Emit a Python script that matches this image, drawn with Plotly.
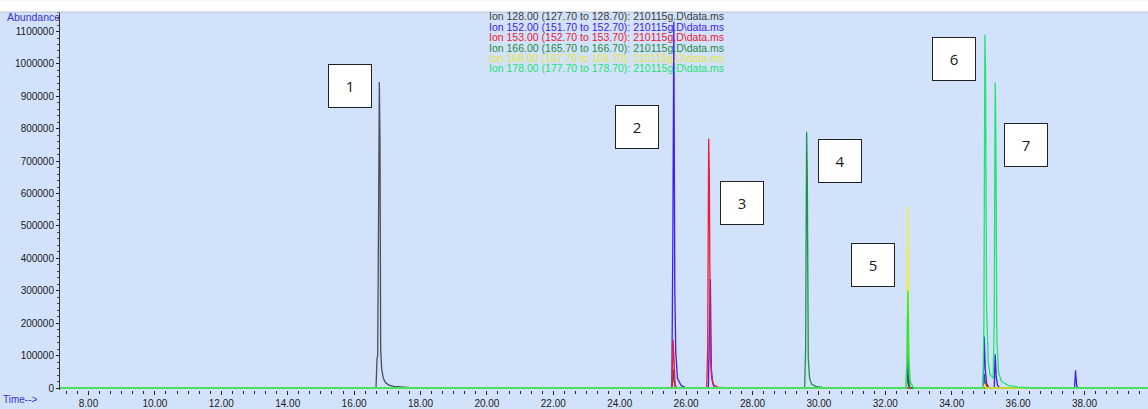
import plotly.graph_objects as go

# ---------------- data ----------------
ion_labels = [
    "Ion 128.00 (127.70 to 128.70): 210115g.D&#92;data.ms",
    "Ion 152.00 (151.70 to 152.70): 210115g.D&#92;data.ms",
    "Ion 153.00 (152.70 to 153.70): 210115g.D&#92;data.ms",
    "Ion 166.00 (165.70 to 166.70): 210115g.D&#92;data.ms",
    "Ion 168.00 (167.70 to 168.70): 210115g.D&#92;data.ms",
    "Ion 178.00 (177.70 to 178.70): 210115g.D&#92;data.ms",
]

t128 = [7.14, 16.66, 16.69, 16.71, 16.74, 16.76, 16.78, 16.80, 16.83, 16.88, 16.95, 17.05, 17.20, 17.40,
        17.70, 18.20, 25.58, 25.61, 25.64, 25.68, 32.63, 32.66, 32.69, 32.73, 34.95, 34.98, 35.01, 35.05, 39.91]
a128 = [0, 0, 90000, 100000, 580000, 944000, 760000, 120000, 60000, 30000, 16000, 9000, 5000, 3000,
        1500, 0, 0, 58000, 20000, 0, 0, 43000, 15000, 0, 0, 43000, 12000, 0, 0]

t152 = [7.14, 25.57, 25.60, 25.63, 25.66, 25.69, 25.74, 25.85, 26.00, 26.67, 26.70, 26.73, 26.76, 26.80,
        26.86, 32.63, 32.66, 32.69, 32.73, 34.95, 34.98, 35.01, 35.05, 35.12, 35.28, 35.31, 35.34, 35.38,
        35.45, 37.70, 37.73, 37.76, 37.80, 39.91]
a152 = [0, 0, 450000, 1130000, 300000, 107000, 30000, 8000, 0, 0, 160000, 336000, 60000, 15000,
        0, 0, 119000, 40000, 0, 0, 159000, 60000, 15000, 0, 0, 104000, 35000, 8000,
        0, 0, 55000, 10000, 0, 0]

t153 = [7.14, 25.58, 25.61, 25.64, 25.67, 25.72, 26.62, 26.65, 26.68, 26.70, 26.73, 26.77, 26.83, 26.95,
        27.20, 35.00, 35.03, 35.07, 39.91]
a153 = [0, 0, 150000, 40000, 10000, 0, 0, 120000, 770000, 663000, 100000, 30000, 10000, 3000,
        0, 0, 15000, 0, 0]

t166 = [7.14, 29.57, 29.60, 29.63, 29.65, 29.68, 29.72, 29.78, 29.90, 30.10, 30.50, 32.64, 32.67, 32.70,
        32.74, 39.91]
a166 = [0, 0, 120000, 791000, 663000, 90000, 30000, 12000, 5000, 2000, 0, 0, 220000, 60000,
        0, 0]

t168 = [7.14, 32.62, 32.65, 32.68, 32.70, 32.73, 32.78, 32.90, 34.96, 34.99, 35.03, 39.91]
a168 = [0, 0, 100000, 561000, 300000, 40000, 10000, 0, 0, 12000, 0, 0]

t178 = [7.14, 32.62, 32.65, 32.68, 32.71, 32.75, 32.85, 34.94, 34.97, 35.00, 35.02, 35.05, 35.10, 35.16,
        35.25, 35.28, 35.31, 35.33, 35.36, 35.41, 35.50, 35.70, 36.00, 36.50, 39.91]
a178 = [0, 0, 80000, 300000, 100000, 20000, 0, 0, 200000, 1090000, 974000, 250000, 80000, 40000,
        30000, 200000, 943000, 785000, 150000, 50000, 20000, 8000, 3000, 0, 0]

peak_numbers = ["1", "2", "3", "4", "5", "6", "7"]

# ---------------- styling ----------------
W, H = 1148, 409
ML, MR, MT, MB = 60, 0, 12, 15
PW, PH = W - ML - MR, H - MT - MB
BG = "#d3e2fb"
FONT = "Liberation Sans, Arial, sans-serif"

line_colors = ["#4a4f57", "#3d1ef5", "#ee1c3a", "#1e9448", "#f2f22a", "#22e36e"]
text_colors = ["#3a3a3a", "#3b1ee0", "#e8202e", "#1f8a3c", "#e6e63a", "#1fe070"]
series = [(t128, a128), (t152, a152), (t153, a153), (t166, a166), (t168, a168), (t178, a178)]


def px(x):
    return (x - ML) / PW


def py(y):
    return (H - MB - y) / PH


fig = go.Figure()
for (tt, aa), col, name in zip(series, line_colors, ion_labels):
    fig.add_trace(go.Scatter(x=tt, y=aa, mode="lines", name=name,
                             line=dict(color=col, width=1.3), showlegend=False,
                             hoverinfo="skip"))

annotations = []
# legend lines as text
leg_y = [16.5, 27, 37.5, 48, 58.5, 69]
for lbl, col, yy in zip(ion_labels, text_colors, leg_y):
    annotations.append(dict(text=lbl, x=px(487), y=py(yy), xref="paper", yref="paper",
                            xanchor="left", yanchor="middle", showarrow=False,
                            font=dict(family=FONT, size=10.5, color=col)))

# numbered boxes
box_centers = [(349.5, 86.5), (636.5, 128.5), (741.5, 205.5), (839.5, 162.5),
               (872.5, 267.5), (953.5, 59.5), (1025.5, 146.5)]
for num, (cx, cy) in zip(peak_numbers, box_centers):
    annotations.append(dict(text=num, x=px(cx), y=py(cy), xref="paper", yref="paper",
                            xanchor="center", yanchor="middle", showarrow=False,
                            width=40, height=40, borderpad=1, borderwidth=1,
                            bordercolor="#222222", bgcolor="#ffffff",
                            font=dict(family="Open Sans, " + FONT, size=15, color="#1a1a1a")))

annotations.append(dict(text="Abundance", x=px(5), y=py(17), xref="paper", yref="paper",
                        xanchor="left", yanchor="middle", showarrow=False,
                        font=dict(family=FONT, size=10.5, color="#3b2fd0")))
annotations.append(dict(text="Time-->", x=px(1), y=py(404), xref="paper", yref="paper",
                        xanchor="left", yanchor="middle", showarrow=False,
                        font=dict(family=FONT, size=10, color="#3b2fd0")))

shapes = [
    dict(type="rect", xref="paper", yref="paper", x0=px(0), x1=px(W), y0=1, y1=py(0),
         fillcolor="#ffffff", line=dict(width=0), layer="above"),
    dict(type="line", xref="paper", yref="paper", x0=px(0), x1=px(W), y0=1, y1=1,
         line=dict(color="#b8c4d8", width=1), layer="above"),
]

# axis scale: 0 at y=392 px, 32.75 px per 100000
ypp = 32.75 / 100000
y0 = -(H - MB - 392) / ypp
y1 = (392 - MT) / ypp
xpm = 33.2
x0 = 8 - (88.5 - ML) / xpm
x1 = 8 + (W - MR - 88.5) / xpm

fig.update_layout(
    width=W, height=H,
    margin=dict(l=ML, r=MR, t=MT, b=MB, pad=0),
    paper_bgcolor=BG, plot_bgcolor=BG,
    annotations=annotations, shapes=shapes,
    xaxis=dict(range=[x0, x1], showgrid=False, zeroline=False, showline=False,
               tickmode="linear", tick0=0, dtick=2, tickformat=".2f",
               ticks="outside", ticklen=4, tickcolor="#222222", tickwidth=1,
               minor=dict(dtick=2 / 6, tick0=0, ticks="outside", ticklen=3, tickcolor="#222222"),
               tickfont=dict(family=FONT, size=10, color="#1a1a1a")),
    yaxis=dict(range=[y0, y1], showgrid=False, zeroline=False, showline=True,
               linecolor="#333333", linewidth=1,
               tickmode="linear", tick0=0, dtick=100000, tickformat="d",
               ticks="outside", ticklen=3, tickcolor="#222222", tickwidth=1,
               minor=dict(dtick=20000, ticks="outside", ticklen=2, tickcolor="#444444"),
               tickfont=dict(family=FONT, size=10, color="#1a1a1a")),
)

fig.write_html("out.html")
